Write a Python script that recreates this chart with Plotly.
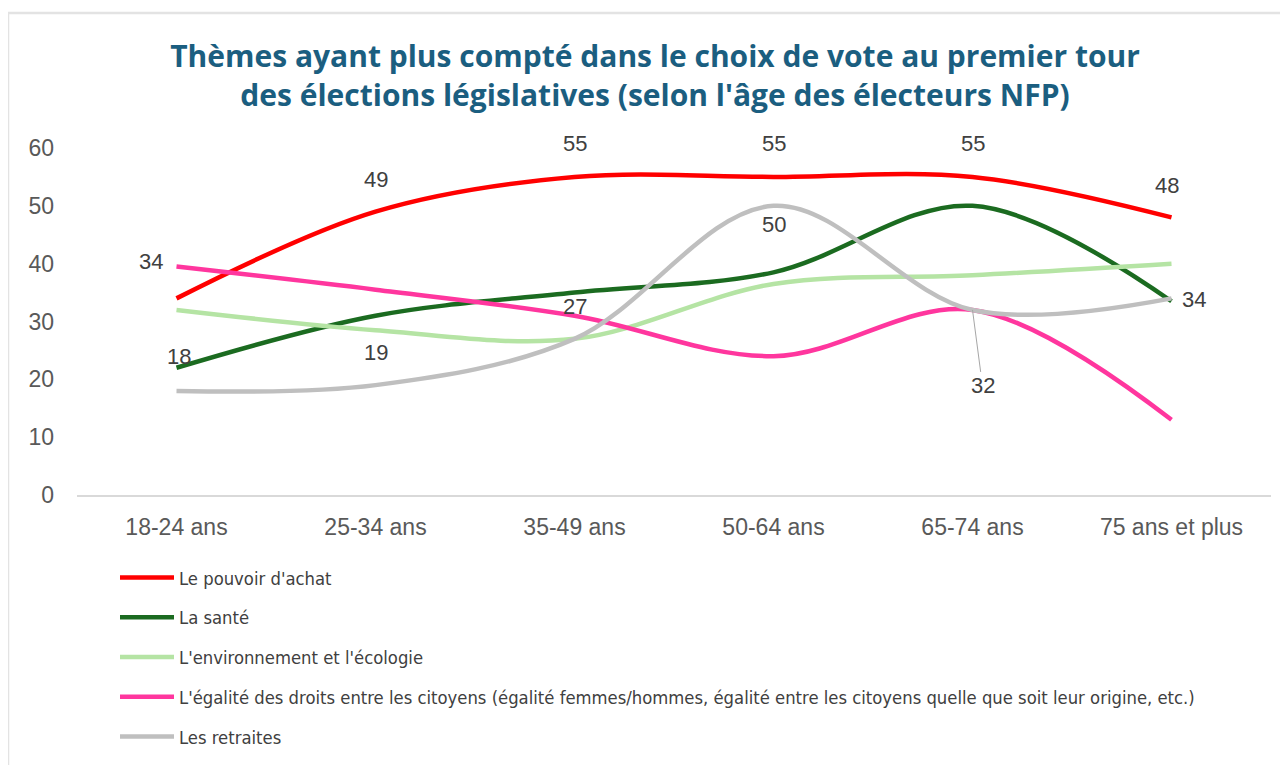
import plotly.graph_objects as go

categories = ["18-24 ans", "25-34 ans", "35-49 ans", "50-64 ans", "65-74 ans", "75 ans et plus"]

series_names = [
    "Le pouvoir d'achat",
    "La santé",
    "L'environnement et l'écologie",
    "L'égalité des droits entre les citoyens (égalité femmes/hommes, égalité entre les citoyens quelle que soit leur origine, etc.)",
    "Les retraites",
]
pouvoir_achat = [34, 49, 55, 55, 55, 48]
sante = [22, 31, 35, 38.5, 50, 33.5]
environnement = [32, 28.5, 27, 36.5, 38, 40]
egalite = [39.5, 35.5, 31, 24, 32, 13]
retraites = [18, 19, 27, 50, 32, 34]

values = [pouvoir_achat, sante, environnement, egalite, retraites]
colors = ["#FF0000", "#1B6B20", "#B5E4A4", "#FF369E", "#BFBFBF"]

# label offsets (px) for data labels of the labelled series
red_label_offsets = [(-26, 37), (0, 32), (0, 33), (0, 33), (0, 33), (-5, 32)]
grey_label_offsets = [(2, 34), (0, 33), (0, 32), (0, -19), None, (22, -1)]

# the page body has an 8px margin: work in page pixels and convert
OFF = 8
W, H = 1288 - OFF, 765 - OFF
PX0, PX1, PY0, PY1 = 77, 1271, 148, 495  # plot area in page pixels
L, R, T, B = PX0 - OFF, W - (PX1 - OFF), PY0 - OFF, H - (PY1 - OFF)
pw, ph = PX1 - PX0, PY1 - PY0


def px_x(p):
    return (p - PX0) / pw


def px_y(p):
    return (PY1 - p) / ph


fig = go.Figure()
for name, vals, col in zip(series_names, values, colors):
    fig.add_trace(go.Scatter(
        x=categories, y=vals, name=name, mode="lines",
        line=dict(color=col, width=4.5, shape="spline", smoothing=1),
        legendgroup=name,
    ))

annotations = []
lab_font = dict(family="Liberation Sans, Arial, sans-serif", size=22, color="#404040")
for i, (v, off) in enumerate(zip(pouvoir_achat, red_label_offsets)):
    annotations.append(dict(x=categories[i], y=v, xref="x", yref="y", text=f"{v:g}",
                            showarrow=False, xshift=off[0], yshift=off[1], font=lab_font))
for i, (v, off) in enumerate(zip(retraites, grey_label_offsets)):
    if off is None:
        annotations.append(dict(x=categories[i], y=v, xref="x", yref="y", text=f"{v:g}",
                                showarrow=True, arrowhead=0, arrowwidth=1, arrowcolor="#A6A6A6",
                                ax=10, ay=76, standoff=0, font=lab_font))
    else:
        annotations.append(dict(x=categories[i], y=v, xref="x", yref="y", text=f"{v:g}",
                                showarrow=False, xshift=off[0], yshift=off[1], font=lab_font))

shapes = [
    dict(type="line", xref="paper", yref="paper", x0=px_x(8), x1=px_x(1300), y0=px_y(13), y1=px_y(13),
         line=dict(color="#E3E3E3", width=2.5)),
    dict(type="line", xref="paper", yref="paper", x0=px_x(8), x1=px_x(8), y0=px_y(13), y1=px_y(780),
         line=dict(color="#E3E3E3", width=2.5)),
]

tick_font = dict(family="Liberation Sans, Arial, sans-serif", size=23, color="#595959")

fig.update_layout(
    width=W, height=H,
    margin=dict(l=L, r=R, t=T, b=B, autoexpand=False),
    paper_bgcolor="white", plot_bgcolor="white",
    title=dict(
        text="Thèmes ayant plus compté dans le choix de vote au premier tour<br>des élections législatives (selon l'âge des électeurs NFP)",
        x=(655 - OFF) / W, xref="container", xanchor="center",
        y=1 - 59 / H, yref="container", yanchor="top",
        font=dict(family="Open Sans, Lato, sans-serif", size=30, color="#1B5E80", weight="bold"),
    ),
    xaxis=dict(
        type="category", range=[-0.5, 5.5], showgrid=False, showline=True, automargin=False,
        linecolor="#D9D9D9", linewidth=1.5, ticks="", zeroline=False,
        tickfont=tick_font, ticklabelstandoff=11,
    ),
    yaxis=dict(
        range=[0, 60], dtick=10, showgrid=False, showline=False, zeroline=False, ticks="",
        automargin=False, tickfont=tick_font, ticklabelstandoff=22,
    ),
    showlegend=True,
    legend=dict(
        orientation="v", x=px_x(115), xanchor="left", y=px_y(559), yanchor="top",
        font=dict(family="Liberation Sans Narrow, DejaVu Sans Condensed, Arial Narrow, sans-serif", size=18.3, color="#404040"),
        tracegroupgap=13, itemwidth=54, bgcolor="rgba(0,0,0,0)",
    ),
    annotations=annotations,
    shapes=shapes,
)

fig.write_html("out.html")
